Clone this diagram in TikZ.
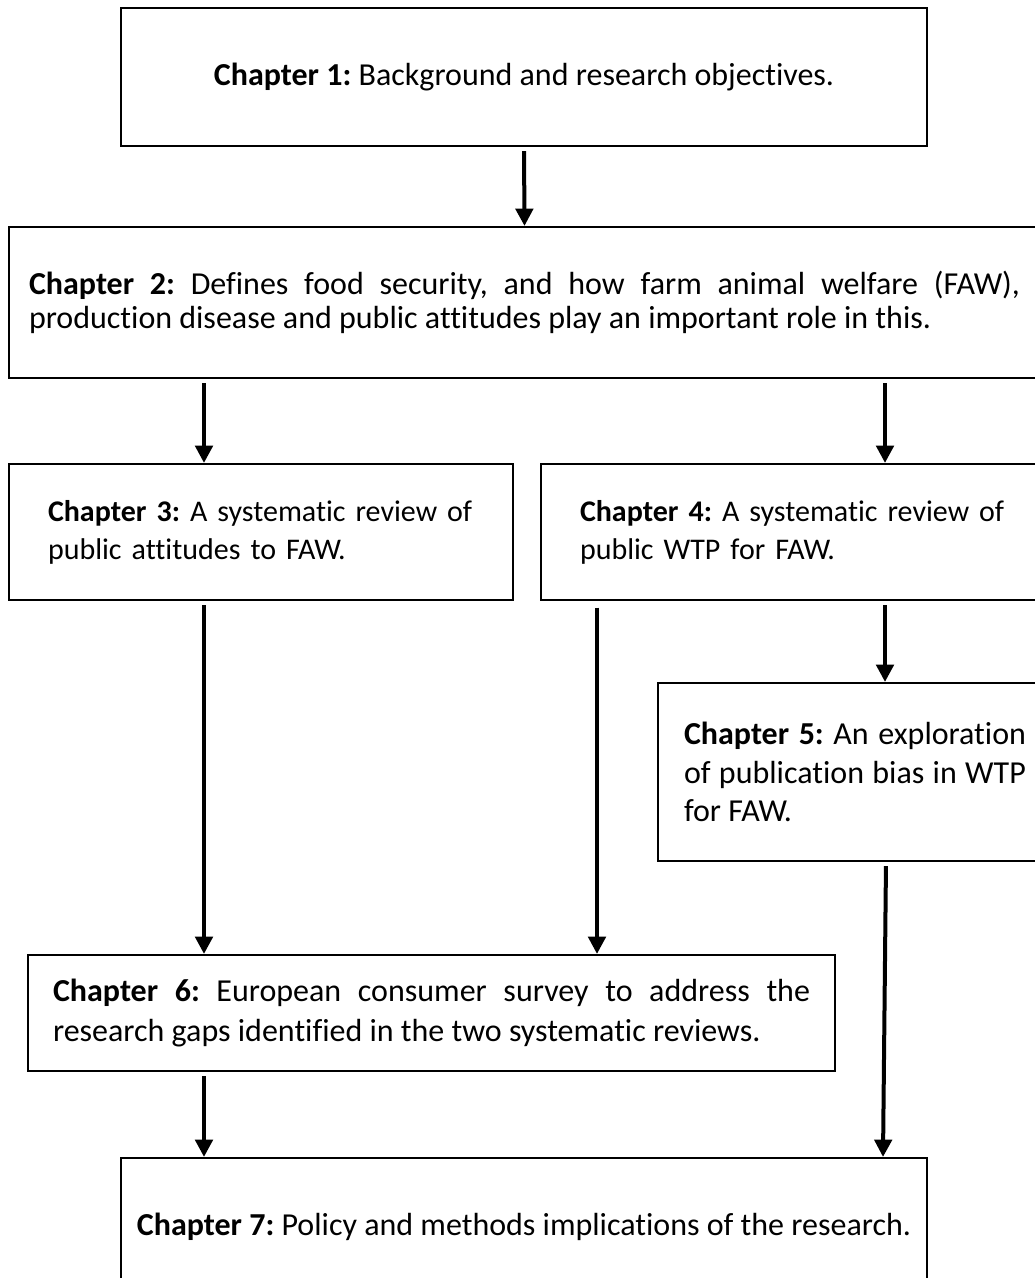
\documentclass[tikz,border=0pt]{standalone}
\usepackage{fontspec}
\setmainfont{Carlito}[Ligatures=NoCommon]
\usetikzlibrary{arrows.meta}
\frenchspacing

\begin{document}
\begin{tikzpicture}[x=0.75pt, y=-0.75pt,
    chbox/.style={draw, line width=1.6pt, inner ysep=0pt, font=\fontsize{24}{29}\selectfont},
    arr/.style={line width=3pt, shorten <=3pt, -{Triangle[length=13pt, width=13pt]}}]
    \useasboundingbox (0,0) rectangle (1035,1278);
    \clip (0,0) rectangle (1035,1278);

    % Chapter boxes
    \node[chbox, minimum width=604.5pt, minimum height=103.5pt] (ch1) at (524,77)
        {\textbf{Chapter 1:} Background and research objectives.};
    \node[chbox, inner xsep=15pt, text width=743.25pt, minimum height=113.25pt, align=justify,
        font=\fontsize{24}{25.5}\selectfont] (ch2) at (524.5,302.5)
        {\textbf{Chapter 2:} Defines food security, and how farm animal welfare (FAW),\linebreak
        production disease and public attitudes play an important role in this.};
    \node[chbox, inner xsep=29.25pt, text width=319.5pt, minimum height=102pt, align=left,
        font=\fontsize{22.5}{28.5}\selectfont] (ch3) at (261,532)
        {\mbox{\textbf{Chapter 3:} A systematic review of}\\ public attitudes to FAW.};
    \node[chbox, inner xsep=29.25pt, text width=319.5pt, minimum height=102pt, align=left,
        font=\fontsize{22.5}{28.5}\selectfont] (ch4) at (793,532)
        {\mbox{\textbf{Chapter 4:} A systematic review of}\\ public WTP for FAW.};
    \node[chbox, inner xsep=19.5pt, text width=256.5pt, minimum height=133.5pt, align=justify,
        font=\fontsize{24}{29}\selectfont] (ch5) at (855,772)
        {\textbf{Chapter 5:} An exploration\linebreak of publication bias in WTP\linebreak for FAW.};
    \node[chbox, inner xsep=18.75pt, text width=567.75pt, minimum height=87pt, align=justify,
        font=\fontsize{24}{30}\selectfont] (ch6) at (431.5,1013)
        {\textbf{Chapter 6:} European consumer survey to address the\linebreak
        research gaps identified in the two systematic reviews.};
    \node[chbox, minimum width=604.5pt, minimum height=103.5pt] (ch7) at (524,1227)
        {\textbf{Chapter 7:} Policy and methods implications of the research.};

    % Arrow columns
    \coordinate (xl) at (204,0);
    \coordinate (xm) at (597,0);
    \coordinate (xr) at (885,0);
    \coordinate (xa) at (886,0);
    \coordinate (xb) at (883,0);

    % Arrows
    \draw[arr] (ch1.south) -- (ch2.north);
    \draw[arr] (ch2.south -| xl) -- (ch3.north -| xl);
    \draw[arr] (ch2.south -| xr) -- (ch4.north -| xr);
    \draw[arr] (ch4.south -| xr) -- (ch5.north -| xr);
    \draw[arr] (ch3.south -| xl) -- (ch6.north -| xl);
    \draw[arr, shorten <=5pt] (ch4.south -| xm) -- (ch6.north -| xm);
    \draw[arr] (ch5.south -| xa) -- (ch7.north -| xb);
    \draw[arr] (ch6.south -| xl) -- (ch7.north -| xl);
\end{tikzpicture}
\end{document}
